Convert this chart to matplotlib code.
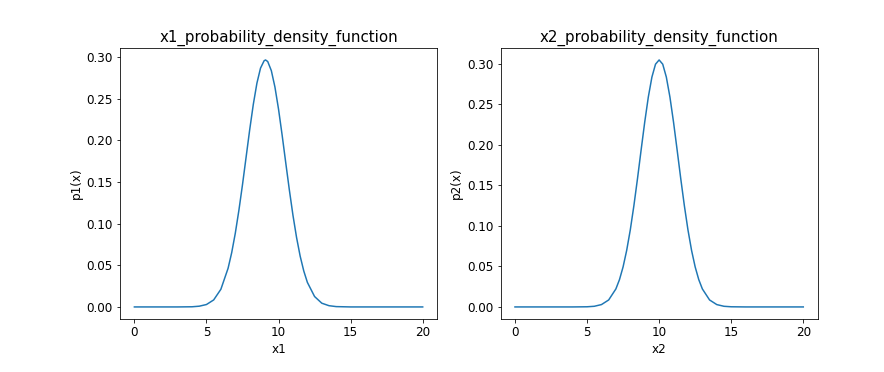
import matplotlib
matplotlib.use('Agg')
import matplotlib.pyplot as plt
from matplotlib.ticker import MultipleLocator

# values
x1 = [0, 1, 2, 3, 4, 4.5, 5, 5.5, 6, 6.5, 6.75, 7, 7.25, 7.5, 7.75, 8, 8.25, 8.5, 8.75,
      9, 9.1, 9.25, 9.5, 9.75, 10, 10.25, 10.5, 10.75, 11, 11.25, 11.5, 11.75, 12, 12.5,
      13, 13.5, 14, 15, 16, 17, 18, 19, 20]
p1 = [0, 0, 0, 0, 0.0002, 0.0009, 0.0029, 0.0084, 0.0212, 0.0464, 0.0651, 0.0884,
      0.1160, 0.1468, 0.1798, 0.2128, 0.2432, 0.2686, 0.2867, 0.2956, 0.2965, 0.2946,
      0.2837, 0.2640, 0.2374, 0.2062, 0.1731, 0.1405, 0.1101, 0.0834, 0.0610, 0.0432,
      0.0295, 0.0125, 0.0045, 0.0015, 0.0004, 0, 0, 0, 0, 0, 0]

x2 = [0, 1, 2, 3, 4, 5, 5.5, 6, 6.5, 7, 7.25, 7.5, 7.75, 8, 8.25, 8.5, 8.75, 9, 9.25,
      9.5, 9.75, 10, 10.25, 10.5, 10.75, 11, 11.25, 11.5, 11.75, 12, 12.25, 12.5,
      12.75, 13, 13.5, 14, 14.5, 15, 16, 17, 18, 19, 20]
p2 = [0, 0, 0, 0, 0, 0.0002, 0.0008, 0.0029, 0.0086, 0.0222, 0.0337, 0.0494, 0.0698,
      0.0951, 0.1250, 0.1583, 0.1935, 0.2279, 0.2589, 0.2836, 0.2995, 0.3047, 0.2995,
      0.2836, 0.2589, 0.2279, 0.1935, 0.1583, 0.1250, 0.0951, 0.0698, 0.0494, 0.0337,
      0.0222, 0.0086, 0.0029, 0.0008, 0.0002, 0, 0, 0, 0, 0]

plt.rcParams['font.size'] = 12
plt.rcParams['axes.titlesize'] = 15

fig, axes = plt.subplots(1, 2, figsize=(884 / 72, 372 / 72), dpi=72)
fig.subplots_adjust(left=0.1357, right=0.925, bottom=0.1417, top=0.872, wspace=0.2)

axes[0].plot(x1, p1)
axes[0].set_title('x1_probability_density_function')
axes[0].set_xlabel('x1')
axes[0].set_ylabel('p1(x)')

axes[1].plot(x2, p2)
axes[1].set_title('x2_probability_density_function')
axes[1].set_xlabel('x2')
axes[1].set_ylabel('p2(x)')

for ax in axes:
    ax.xaxis.set_major_locator(MultipleLocator(5))
    ax.yaxis.set_major_locator(MultipleLocator(0.05))

fig.savefig('out.png', dpi=72)
